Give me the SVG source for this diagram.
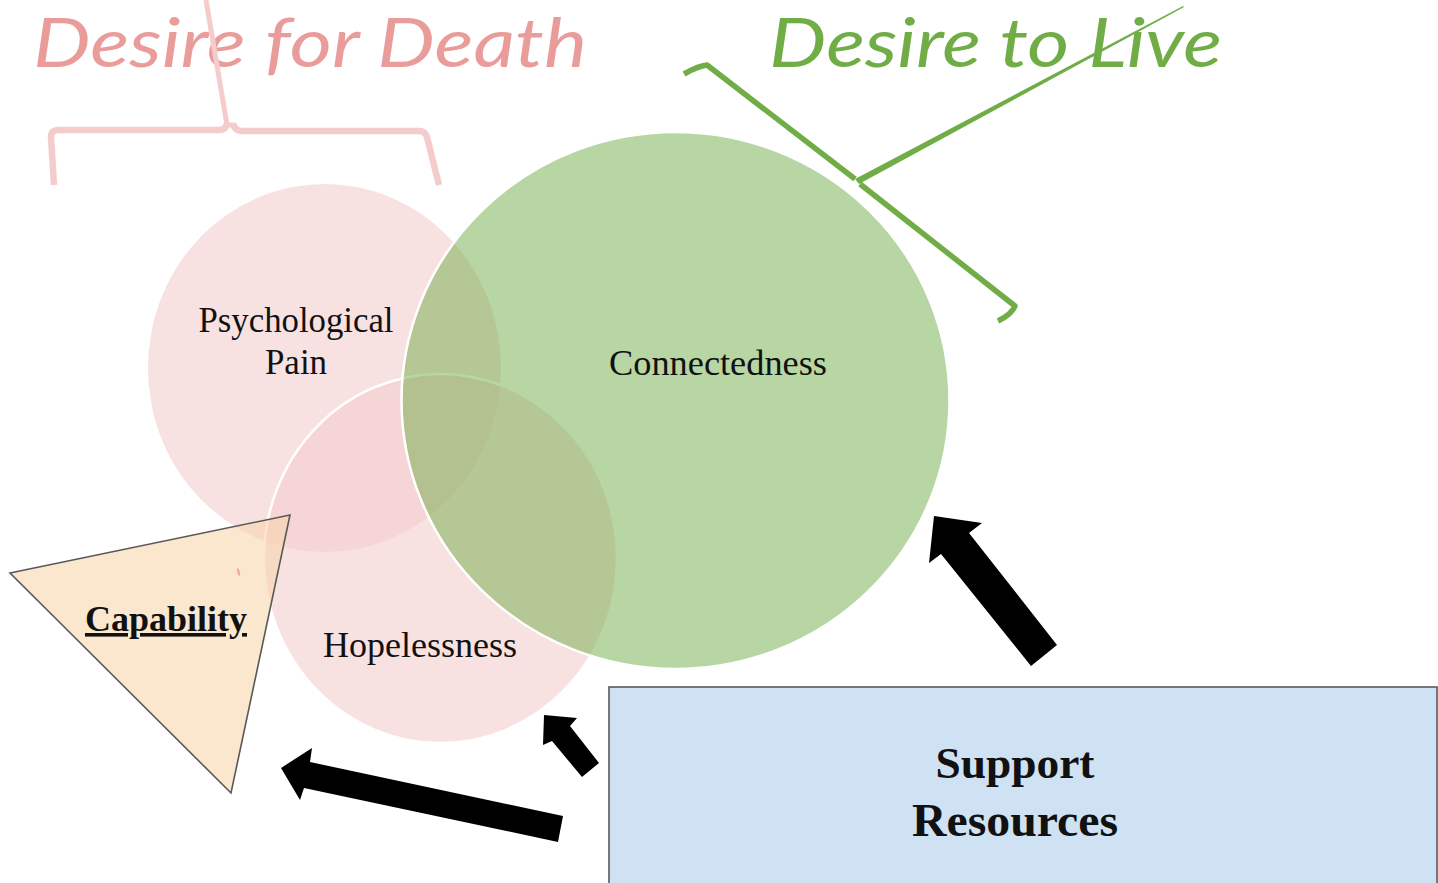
<svg xmlns="http://www.w3.org/2000/svg" width="1438" height="883" viewBox="0 0 1438 883">
<style>
.lbl{font-family:"Liberation Serif","Times New Roman",serif;fill:#111;text-anchor:middle}
.title{font-family:Lato,"Open Sans",sans-serif;font-style:italic;font-size:67px}
.arrow{fill:#000}
</style>
<rect width="1438" height="883" fill="#fff"/>
<g id="title-death">
<text class="title" x="33" y="66.5" fill="#e99c9a" textLength="554" lengthAdjust="spacingAndGlyphs">Desire for Death</text>
<path d="M54,185 L51,137 Q51,130 58,130 L219,130 Q226,130 227,123 M233,123 Q234,130 241,131 L419,131 Q425,131 427,137 L439,185" fill="none" stroke="#f4cccc" stroke-width="6.5" stroke-linejoin="round"/>
<path d="M206,0 L227,125 L233,125" fill="none" stroke="#f4cccc" stroke-width="5" stroke-linejoin="round"/>
</g>
<g id="title-live">
<text class="title" x="769" y="66.5" fill="#70ad47" textLength="453" lengthAdjust="spacingAndGlyphs">Desire to Live</text>
<path d="M684,74 Q698,66 707,65 L855,179 M860,184 L1015,306 Q1012,314 998,321" fill="none" stroke="#70ad47" stroke-width="5.5" stroke-linejoin="round"/>
<path d="M855,179 L1183,6 L1184,7 L859,184 Z" fill="#70ad47"/>
</g>
<g id="psychological-pain">
<ellipse cx="324.5" cy="368" rx="176.5" ry="184" fill="#f3cdcd" fill-opacity="0.6"/>
<text class="lbl" x="296" y="332" font-size="35" textLength="195" lengthAdjust="spacingAndGlyphs">Psychological</text>
<text class="lbl" x="296" y="374" font-size="35">Pain</text>
</g>
<g id="hopelessness">
<ellipse cx="440.5" cy="558.5" rx="176.5" ry="184.5" fill="#f3cdcd" fill-opacity="0.6" stroke="#fff" stroke-width="2.5"/>
</g>
<g id="connectedness">
<ellipse cx="675.5" cy="400.5" rx="274" ry="268.5" fill="#70ad47" fill-opacity="0.5" stroke="#fff" stroke-width="2.5"/>
<text class="lbl" x="718" y="375" font-size="35.5" textLength="218" lengthAdjust="spacingAndGlyphs">Connectedness</text>
</g>
<text class="lbl" x="420" y="657" font-size="35.5" textLength="194" lengthAdjust="spacingAndGlyphs">Hopelessness</text>
<g id="capability">
<polygon points="10,573 290,515 231,793" fill="#f9d5ae" fill-opacity="0.6" stroke="#595959" stroke-width="1.6"/>
<ellipse cx="238.5" cy="572" rx="1.3" ry="4" fill="#f0a8a0" transform="rotate(-15 238.5 572)"/>
<text class="lbl" x="166" y="631" font-size="36" font-weight="bold" text-decoration="underline">Capability</text>
</g>
<g id="support-resources">
<rect x="609" y="687" width="828" height="200" fill="#cfe2f3" stroke="#595959" stroke-width="1.6"/>
<text class="lbl" x="1015" y="778" font-size="45" font-weight="bold" textLength="159" lengthAdjust="spacingAndGlyphs">Support</text>
<text class="lbl" x="1015" y="836" font-size="46" font-weight="bold" textLength="206" lengthAdjust="spacingAndGlyphs">Resources</text>
</g>
<g id="connectors">
<polygon class="arrow" points="934,516 982,523 969,533 1057,645 1031,666 941,554 929,563"/>
<polygon class="arrow" points="544,715 577,718 570,726 599,763 582,777 552,741 543,745"/>
<polygon class="arrow" points="281,768 312,748 310,762 563,816 558,842 304,788 300,800"/>
</g>
</svg>
